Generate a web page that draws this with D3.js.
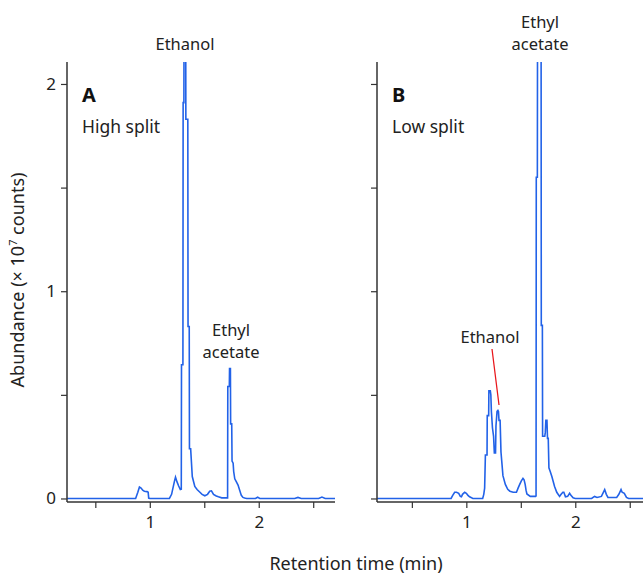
<!DOCTYPE html>
<html>
<head>
<meta charset="utf-8">
<script src="https://cdn.jsdelivr.net/npm/d3@7"></script>
<style>
  html, body { margin: 0; padding: 0; background: #fff; }
  svg { display: block; font-family: "Noto Sans", "Open Sans", sans-serif; }
</style>
</head>
<body>
<svg id="chart" width="643" height="574"></svg>
<script>
// ---- data ----
const panelATime = [0.24,0.87,0.89,0.905,0.92,0.935,0.95,0.975,0.985,0.99,1.0,1.18,1.20,1.225,1.236,1.25,1.265,1.28,1.289,1.291,1.304,1.306,1.313,1.315,1.329,1.331,1.349,1.351,1.362,1.364,1.375,1.39,1.405,1.413,1.434,1.46,1.48,1.505,1.53,1.55,1.566,1.585,1.61,1.63,1.66,1.70,1.714,1.716,1.73,1.732,1.74,1.742,1.752,1.755,1.765,1.77,1.78,1.795,1.81,1.825,1.84,1.855,1.87,1.89,1.97,1.99,2.01,2.33,2.36,2.39,2.55,2.58,2.61,2.70];
const panelAAbund = [0,0,0.03,0.055,0.05,0.04,0.035,0.033,0.03,0.002,0,0,0.02,0.08,0.103,0.08,0.06,0.043,0.045,0.645,0.645,1.91,1.91,2.5,2.5,1.83,1.83,0.83,0.83,0.24,0.24,0.106,0.075,0.058,0.043,0.03,0.02,0.013,0.02,0.035,0.037,0.02,0.012,0.008,0.003,0.003,0.003,0.54,0.54,0.627,0.627,0.36,0.36,0.18,0.17,0.13,0.095,0.08,0.065,0.04,0.015,0.005,0.002,0,0,0.006,0,0,0.005,0,0,0.007,0,0];

const panelBTime = [0.18,0.86,0.875,0.893,0.91,0.93,0.945,0.955,0.965,0.985,1.0,1.015,1.03,1.06,1.15,1.16,1.168,1.175,1.19,1.192,1.205,1.207,1.22,1.225,1.23,1.24,1.25,1.257,1.268,1.272,1.282,1.29,1.295,1.30,1.31,1.318,1.325,1.336,1.358,1.38,1.40,1.43,1.46,1.475,1.49,1.505,1.52,1.53,1.54,1.548,1.556,1.587,1.636,1.64,1.642,1.652,1.654,1.686,1.688,1.698,1.70,1.72,1.725,1.73,1.74,1.745,1.752,1.758,1.77,1.785,1.81,1.83,1.856,1.87,1.886,1.895,1.91,1.93,1.948,1.96,1.98,2.0,2.15,2.177,2.2,2.24,2.27,2.285,2.30,2.38,2.40,2.42,2.43,2.45,2.47,2.49,2.64];
const panelBAbund = [0,0,0.015,0.03,0.03,0.025,0.01,0.008,0.02,0.03,0.025,0.015,0.008,0,0,0.02,0.05,0.21,0.21,0.40,0.40,0.52,0.52,0.5,0.42,0.34,0.3,0.22,0.22,0.35,0.42,0.425,0.42,0.377,0.377,0.224,0.18,0.11,0.068,0.044,0.035,0.03,0.03,0.05,0.068,0.085,0.097,0.09,0.068,0.04,0.022,0.01,0.01,0.012,1.55,1.55,2.5,2.5,0.835,0.835,0.30,0.30,0.32,0.377,0.377,0.29,0.29,0.148,0.13,0.106,0.058,0.03,0.01,0.02,0.03,0.03,0.008,0.01,0.025,0.015,0.003,0,0,0.01,0.005,0.01,0.043,0.02,0.005,0.005,0.02,0.043,0.03,0.025,0.005,0,0];

const yTicks = [0, 0.5, 1, 1.5, 2];
const yTickLabels = ["0", "", "1", "", "2"];
const xTicks = [0.5, 1, 1.5, 2, 2.5];
const xTickLabels = ["", "1", "", "2", ""];

const panels = [
  { letter: "A", subtitle: "High split", time: panelATime, abund: panelAAbund,
    xDomain: [0.24, 2.70], xRange: [67, 335], showYLabels: true },
  { letter: "B", subtitle: "Low split", time: panelBTime, abund: panelBAbund,
    xDomain: [0.18, 2.64], xRange: [377, 645], showYLabels: false }
];

// ---- drawing ----
const svg = d3.select("#chart");
const textColor = "#222";
const axisColor = "#333";
const lineColor = "#2262e8";
const yTop = 62, yBottom = 502;
const y = d3.scaleLinear().domain([-0.017, 2.106]).range([yBottom, yTop]);

panels.forEach((p, i) => {
  const x = d3.scaleLinear().domain(p.xDomain).range(p.xRange);
  const g = svg.append("g");

  const clipId = "clip" + i;
  svg.append("clipPath").attr("id", clipId).append("rect")
    .attr("x", p.xRange[0]).attr("y", yTop)
    .attr("width", p.xRange[1] - p.xRange[0]).attr("height", yBottom - yTop);

  const data = p.time.map((t, k) => [t, p.abund[k]]);
  const line = d3.line().x(d => x(d[0])).y(d => y(d[1])).curve(d3.curveLinear);
  g.append("path")
    .attr("clip-path", `url(#${clipId})`)
    .attr("d", line(data))
    .attr("fill", "none")
    .attr("stroke", lineColor)
    .attr("stroke-width", 1.6)
    .attr("stroke-linejoin", "miter");

  const yAxis = d3.axisLeft(y).tickValues(yTicks).tickSize(6).tickPadding(5)
    .tickFormat((d, k) => p.showYLabels ? yTickLabels[k] : "");
  const ya = g.append("g").attr("transform", `translate(${p.xRange[0]},0)`).call(yAxis);
  ya.select(".domain").attr("d", `M0,${yTop}V${yBottom}`);

  const xAxis = d3.axisBottom(x).tickValues(xTicks).tickSize(6).tickPadding(8)
    .tickFormat((d, k) => xTickLabels[k]);
  const xa = g.append("g").attr("transform", `translate(0,${yBottom})`).call(xAxis);
  xa.select(".domain").attr("d", `M${p.xRange[0]},0H${p.xRange[1]}`);

  [ya, xa].forEach(a => {
    a.select(".domain").attr("stroke", axisColor).attr("stroke-width", 1.5);
    a.selectAll(".tick line").attr("stroke", axisColor).attr("stroke-width", 1.2);
    a.selectAll(".tick text").attr("fill", textColor)
      .style("font-size", "17px").style("font-family", "'Noto Sans', sans-serif");
  });

  g.append("text").attr("x", p.xRange[0] + 15).attr("y", 102)
    .attr("fill", "#111").style("font-size", "20px").style("font-weight", "bold")
    .text(p.letter);
  g.append("text").attr("x", p.xRange[0] + 15).attr("y", 133)
    .attr("fill", textColor).style("font-size", "17.5px")
    .text(p.subtitle);
});

function label(lines, cx, baseline) {
  lines.forEach((s, k) => {
    svg.append("text").attr("x", cx).attr("y", baseline + k * 22)
      .attr("text-anchor", "middle").attr("fill", textColor)
      .style("font-size", "16.5px").text(s);
  });
}
label(["Ethanol"], 185, 50);
label(["Ethyl", "acetate"], 231, 336);
label(["Ethyl", "acetate"], 540, 28);
label(["Ethanol"], 490, 343);
svg.append("line").attr("x1", 492).attr("y1", 349).attr("x2", 499).attr("y2", 405)
  .attr("stroke", "#e8161b").attr("stroke-width", 1.2);

svg.append("text").attr("x", 356).attr("y", 570).attr("text-anchor", "middle")
  .attr("fill", textColor).style("font-size", "18px").text("Retention time (min)");
const yt = svg.append("text").attr("transform", "translate(24,280) rotate(-90)")
  .attr("text-anchor", "middle").attr("fill", textColor).style("font-size", "18px");
yt.append("tspan").text("Abundance (× 10");
yt.append("tspan").attr("dy", -7).style("font-size", "11px").text("7");
yt.append("tspan").attr("dy", 7).text(" counts)");
</script>
</body>
</html>
